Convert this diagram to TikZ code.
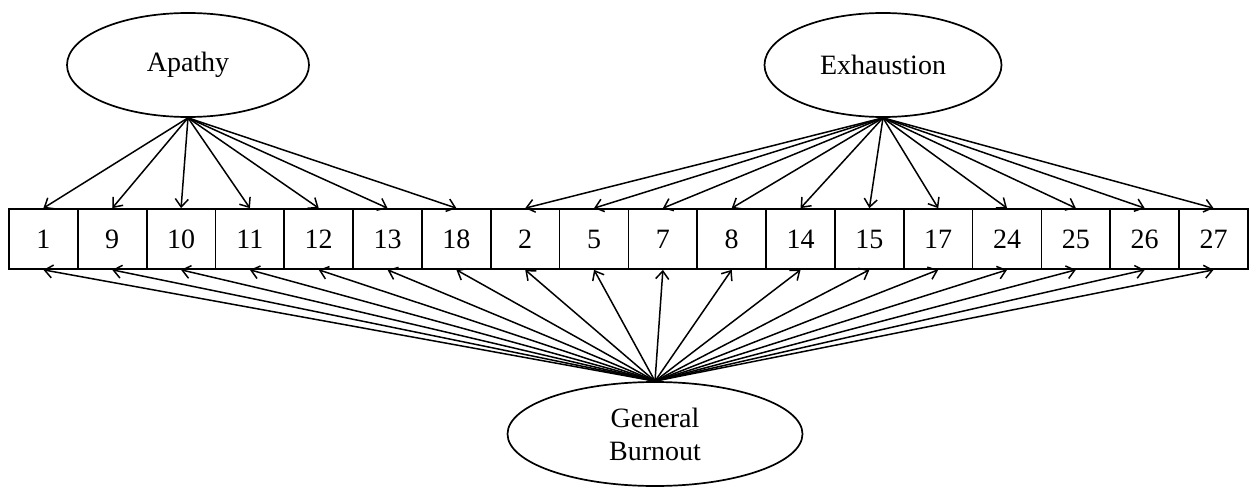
\documentclass[tikz,border=0pt]{standalone}
\usepackage{fontspec}
\setmainfont{Liberation Serif}
\usetikzlibrary{shapes.geometric,arrows.meta}
\begin{document}
\begin{tikzpicture}[x=1pt,y=-1pt,
  item/.style={draw,line width=1.7pt,minimum width=68.83pt,minimum height=60pt,inner sep=0pt,font=\fontsize{28}{33}\selectfont},
  latent/.style={draw,ellipse,line width=1.7pt,inner sep=0pt,font=\fontsize{28}{33}\selectfont,align=center},
  arr/.style={-{Straight Barb[length=8pt,width=13pt,line width=1.5pt]},line width=1.5pt}]
\useasboundingbox (0,0) rectangle (1251,487);
\node[latent,minimum width=242pt,minimum height=104pt] (apathy) at (188,65) {Apathy};
\node[latent,minimum width=237pt,minimum height=104pt] (exh) at (883,65) {Exhaustion};
\node[latent,minimum width=295pt,minimum height=104pt] (gb) at (655,434) {General\\Burnout};
\foreach \t [count=\i] in {1,9,10,11,12,13,18,2,5,7,8,14,15,17,24,25,26,27}
  \node[item] (b\i) at ({9+68.83*(\i-0.5)},239) {\t};
\foreach \i in {1,...,7} \draw[arr] (apathy.south) -- (b\i.north);
\foreach \i in {8,...,18} \draw[arr] (exh.south) -- (b\i.north);
\foreach \i in {1,...,18} \draw[arr] (gb.north) -- (b\i.south);
\end{tikzpicture}
\end{document}
